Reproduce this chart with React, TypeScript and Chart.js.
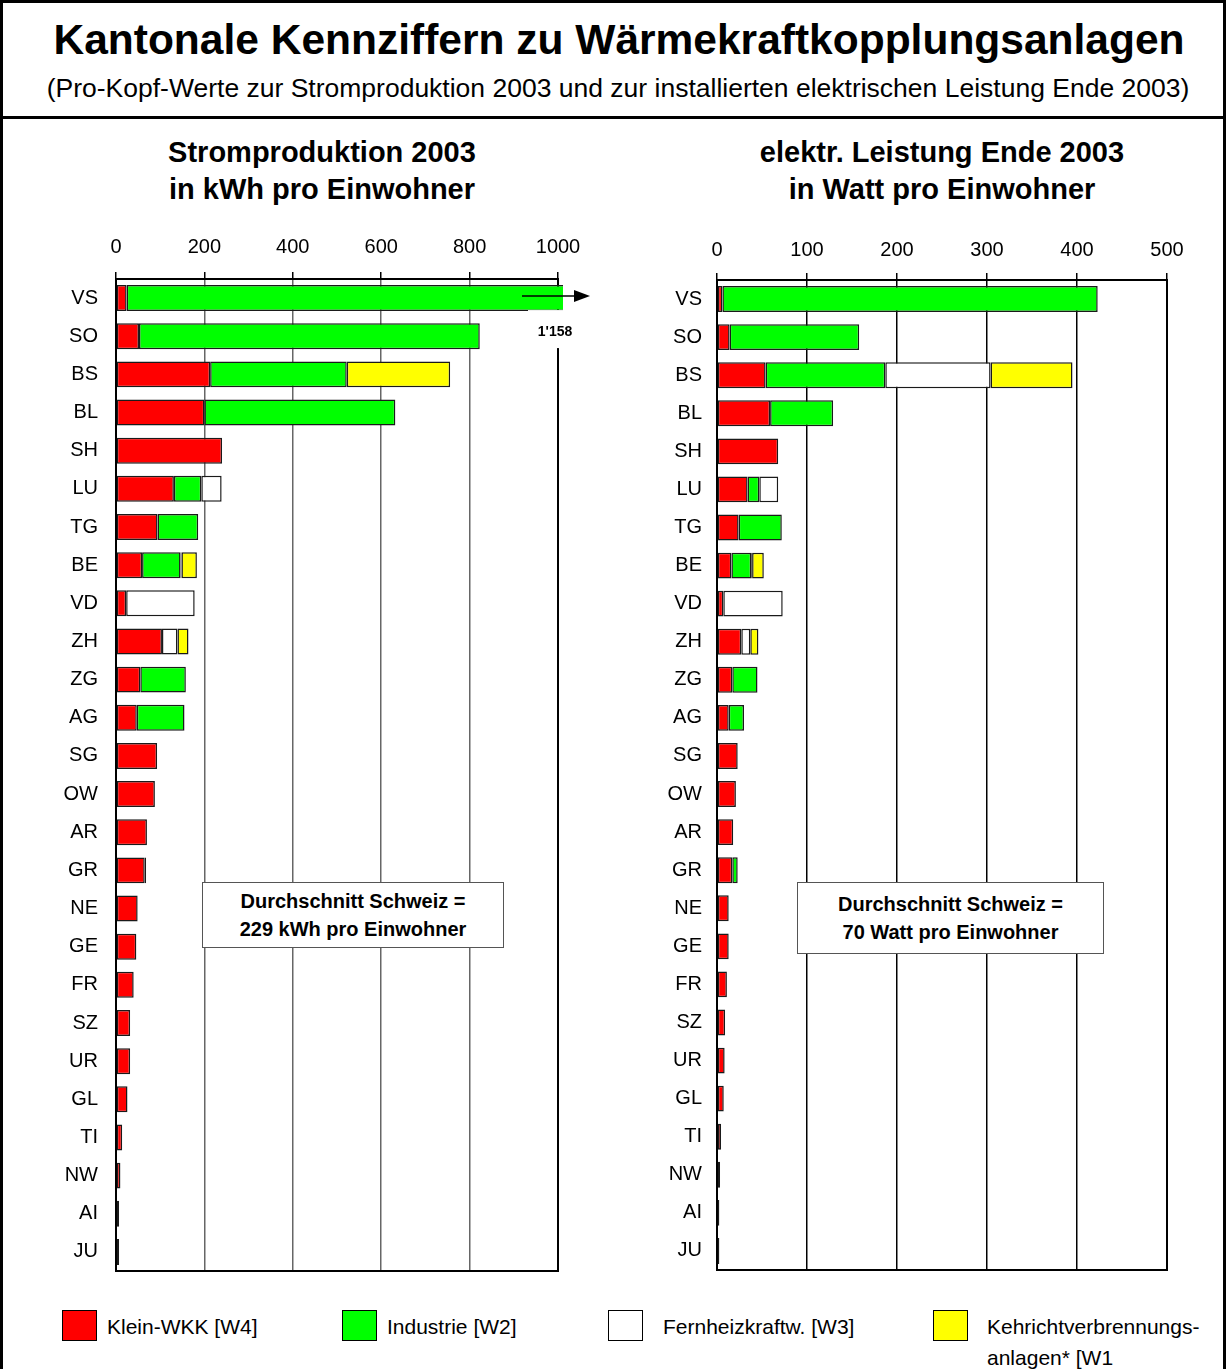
import React, { useEffect, useRef } from 'react';
import { Chart, registerables } from 'chart.js';

Chart.register(...registerables);

// ---------- DATA ----------
const cantons = ['VS', 'SO', 'BS', 'BL', 'SH', 'LU', 'TG', 'BE', 'VD', 'ZH', 'ZG', 'AG', 'SG', 'OW', 'AR', 'GR', 'NE', 'GE', 'FR', 'SZ', 'UR', 'GL', 'TI', 'NW', 'AI', 'JU'];
const seriesNames = ['Klein-WKK [W4]', 'Industrie [W2]', 'Fernheizkraftw. [W3]', 'Kehrichtverbrennungsanlagen* [W1]'];
const seriesColors = ['#FF0000', '#00FF00', '#FFFFFF', '#FFFF00'];

// Stromproduktion 2003, kWh pro Einwohner
const kwhKlein = [24, 52, 213, 200, 240, 131, 94, 59, 23, 104, 55, 47, 93, 88, 70, 65, 49, 46, 40, 32, 32, 26, 14, 10, 7, 7];
const kwhIndustrie = [1134, 771, 309, 432, 0, 62, 92, 87, 0, 0, 103, 108, 0, 0, 0, 3, 0, 0, 0, 0, 0, 0, 0, 0, 0, 0];
const kwhFernheiz = [0, 0, 0, 0, 0, 46, 0, 2, 155, 35, 0, 0, 0, 0, 0, 0, 0, 0, 0, 0, 0, 0, 0, 0, 0, 0];
const kwhKva = [0, 0, 234, 0, 0, 0, 0, 35, 0, 25, 0, 0, 0, 0, 0, 0, 0, 0, 0, 0, 0, 0, 0, 0, 0, 0];

// elektr. Leistung Ende 2003, Watt pro Einwohner
const wattKlein = [6, 14, 54, 59, 68, 34, 24, 16, 7, 27, 17, 13, 23, 21, 18, 17, 13, 13, 11, 9, 8.5, 7.5, 4.5, 3.4, 2.6, 2.6];
const wattIndustrie = [417, 144, 133, 70, 0, 13, 48, 22, 0, 0, 28, 17, 0, 0, 0, 6, 0, 0, 0, 0, 0, 0, 0, 0, 0, 0];
const wattFernheiz = [0, 0, 117, 0, 0, 21, 0, 1, 66, 10, 0, 0, 0, 0, 0, 0, 0, 0, 0, 0, 0, 0, 0, 0, 0, 0];
const wattKva = [0, 0, 91, 0, 0, 0, 0, 13, 0, 9, 0, 0, 0, 0, 0, 0, 0, 0, 0, 0, 0, 0, 0, 0, 0, 0];

const kwhTicks = { max: 1000, step: 200 };
const wattTicks = { max: 500, step: 100 };
const avgKwh = 229;
const avgWatt = 70;

const FONT = '"Liberation Sans", Arial, Helvetica, sans-serif';

function fmtThousands(v: number) {
  return String(Math.round(v)).replace(/\B(?=(\d{3})+(?!\d))/g, "'");
}

const framePlugin = {
  id: 'frame',
  beforeDatasetsDraw(chart: any) {
    const { ctx, chartArea } = chart;
    ctx.save();
    ctx.strokeStyle = '#000';
    ctx.lineWidth = 2;
    ctx.strokeRect(chartArea.left, chartArea.top, chartArea.right - chartArea.left, chartArea.bottom - chartArea.top);
    ctx.restore();
  },
};

const overflowPlugin = {
  id: 'overflowArrow',
  afterDraw(chart: any) {
    const { ctx } = chart;
    const xs = chart.scales.x;
    const ys = chart.scales.y;
    const xe = xs.getPixelForValue(xs.max);
    const yc = ys.getPixelForValue(0) - 2;
    const total = kwhKlein[0] + kwhIndustrie[0] + kwhFernheiz[0] + kwhKva[0];
    ctx.save();
    ctx.strokeStyle = '#000';
    ctx.fillStyle = '#000';
    ctx.lineWidth = 1.5;
    ctx.beginPath();
    ctx.moveTo(xe - 36, yc);
    ctx.lineTo(xe + 18, yc);
    ctx.stroke();
    ctx.beginPath();
    ctx.moveTo(xe + 32, yc);
    ctx.lineTo(xe + 16, yc - 6);
    ctx.lineTo(xe + 16, yc + 6);
    ctx.closePath();
    ctx.fill();
    ctx.fillStyle = '#fff';
    ctx.fillRect(xe - 30, yc + 14, 60, 38);
    ctx.fillStyle = '#000';
    ctx.font = 'bold 14px ' + FONT;
    ctx.textAlign = 'center';
    ctx.textBaseline = 'middle';
    ctx.fillText(fmtThousands(total), xe - 3, yc + 36);
    ctx.restore();
  },
};

type BarProps = {
  left: number; top: number; width: number; height: number;
  series: number[][]; max: number; step: number; gridColor: string;
  yWidth: number; xHeight: number; padRight: number;
  tickPad: number; labelPad: number; overflow?: boolean;
};

function BarChart(p: BarProps) {
  const ref = useRef<HTMLCanvasElement>(null);
  useEffect(() => {
    const datasets = p.series.map((d, i) => ({
      label: seriesNames[i],
      data: d,
      backgroundColor: seriesColors[i],
      borderColor: '#1a1a1a',
      borderWidth: 1.5,
      borderSkipped: false as const,
      categoryPercentage: 1,
      barPercentage: 0.68,
      clip: { left: 5, top: 5, right: 5, bottom: 5 },
    }));
    const chart = new Chart(ref.current!, {
      type: 'bar',
      data: { labels: cantons, datasets },
      options: {
        indexAxis: 'y',
        responsive: false,
        animation: false,
        events: [],
        layout: { padding: { left: 0, top: 0, right: p.padRight, bottom: 0 } },
        plugins: { legend: { display: false }, tooltip: { enabled: false }, title: { display: false } },
        scales: {
          x: {
            position: 'top',
            min: 0,
            max: p.max,
            stacked: true,
            ticks: {
              stepSize: p.step, color: '#000', font: { family: FONT, size: 20 }, padding: p.tickPad, maxRotation: 0,
              callback: (v: any) => String(v),
            },
            grid: { color: p.gridColor, lineWidth: 1.5, drawTicks: true, tickLength: 7, tickColor: '#000' },
            border: { display: false },
            afterFit: (s: any) => { s.height = p.xHeight; },
          },
          y: {
            stacked: true,
            ticks: { color: '#000', font: { family: FONT, size: 20 }, padding: p.labelPad, autoSkip: false },
            grid: { display: false, drawTicks: false },
            border: { display: false },
            afterFit: (s: any) => { s.width = p.yWidth; },
          },
        },
      } as any,
      plugins: p.overflow ? [framePlugin, overflowPlugin] : [framePlugin],
    });
    return () => chart.destroy();
  }, []);
  return (
    <canvas
      ref={ref}
      width={p.width}
      height={p.height}
      style={{ position: 'absolute', left: p.left, top: p.top, width: p.width, height: p.height }}
    />
  );
}

const swatch = (left: number, color: string): React.CSSProperties => ({
  position: 'absolute', left, top: 1310, width: 35, height: 31, background: color,
  border: '1.5px solid #000', boxSizing: 'border-box',
});
const legendText = (left: number, top: number): React.CSSProperties => ({
  position: 'absolute', left, top, fontSize: 21, lineHeight: '24px', whiteSpace: 'nowrap',
});
const avgBox = (left: number, width: number, height: number): React.CSSProperties => ({
  position: 'absolute', left, top: 882, width, height, background: '#fff', border: '1.5px solid #555',
  boxSizing: 'border-box', display: 'flex', flexDirection: 'column', justifyContent: 'center',
  alignItems: 'center', fontWeight: 'bold', fontSize: 20, lineHeight: '28px',
});

export default function App() {
  return (
    <div style={{ position: 'absolute', left: 0, top: 0, width: 1226, height: 1369, overflow: 'hidden', background: '#fff', fontFamily: FONT, color: '#000' }}>
      <div style={{ position: 'absolute', left: 0, top: 0, width: 1226, height: 119, border: '3px solid #000', boxSizing: 'border-box' }} />
      <div style={{ position: 'absolute', left: 0, top: 116, width: 1226, height: 1300, border: '3px solid #000', boxSizing: 'border-box' }} />

      <div style={{ position: 'absolute', left: 6, top: 18, width: 1226, textAlign: 'center', fontWeight: 'bold', fontSize: 42.5, lineHeight: '44px', whiteSpace: 'nowrap' }}>
        Kantonale Kennziffern zu Wärmekraftkopplungsanlagen
      </div>
      <div style={{ position: 'absolute', left: 5, top: 74, width: 1226, textAlign: 'center', fontSize: 26.5, lineHeight: '28px', whiteSpace: 'nowrap' }}>
        (Pro-Kopf-Werte zur Stromproduktion 2003 und zur installierten elektrischen Leistung Ende 2003)
      </div>

      <div style={{ position: 'absolute', left: 22, top: 134, width: 600, textAlign: 'center', fontWeight: 'bold', fontSize: 29, lineHeight: '37px' }}>
        Stromproduktion 2003<br />in kWh pro Einwohner
      </div>
      <div style={{ position: 'absolute', left: 642, top: 134, width: 600, textAlign: 'center', fontWeight: 'bold', fontSize: 29, lineHeight: '37px' }}>
        elektr. Leistung Ende 2003<br />in Watt pro Einwohner
      </div>

      <BarChart
        left={20} top={225} width={590} height={1076}
        series={[kwhKlein, kwhIndustrie, kwhFernheiz, kwhKva]}
        max={kwhTicks.max} step={kwhTicks.step} gridColor="#666"
        yWidth={96} xHeight={54} padRight={52}
        tickPad={13} labelPad={18} overflow
      />
      <BarChart
        left={620} top={225} width={590} height={1072}
        series={[wattKlein, wattIndustrie, wattFernheiz, wattKva]}
        max={wattTicks.max} step={wattTicks.step} gridColor="#000"
        yWidth={97} xHeight={55} padRight={43}
        tickPad={11} labelPad={15}
      />

      <div style={avgBox(202, 302, 66)}>
        <div>Durchschnitt Schweiz =</div>
        <div>{avgKwh} kWh pro Einwohner</div>
      </div>
      <div style={avgBox(797, 307, 72)}>
        <div>Durchschnitt Schweiz =</div>
        <div>{avgWatt} Watt pro Einwohner</div>
      </div>

      <div style={swatch(62, seriesColors[0])} />
      <div style={legendText(107, 1315)}>Klein-WKK [W4]</div>
      <div style={swatch(342, seriesColors[1])} />
      <div style={legendText(387, 1315)}>Industrie [W2]</div>
      <div style={swatch(608, seriesColors[2])} />
      <div style={legendText(663, 1315)}>Fernheizkraftw. [W3]</div>
      <div style={swatch(933, seriesColors[3])} />
      <div style={legendText(987, 1315)}>Kehrichtverbrennungs-</div>
      <div style={legendText(987, 1346)}>anlagen* [W1</div>
    </div>
  );
}
